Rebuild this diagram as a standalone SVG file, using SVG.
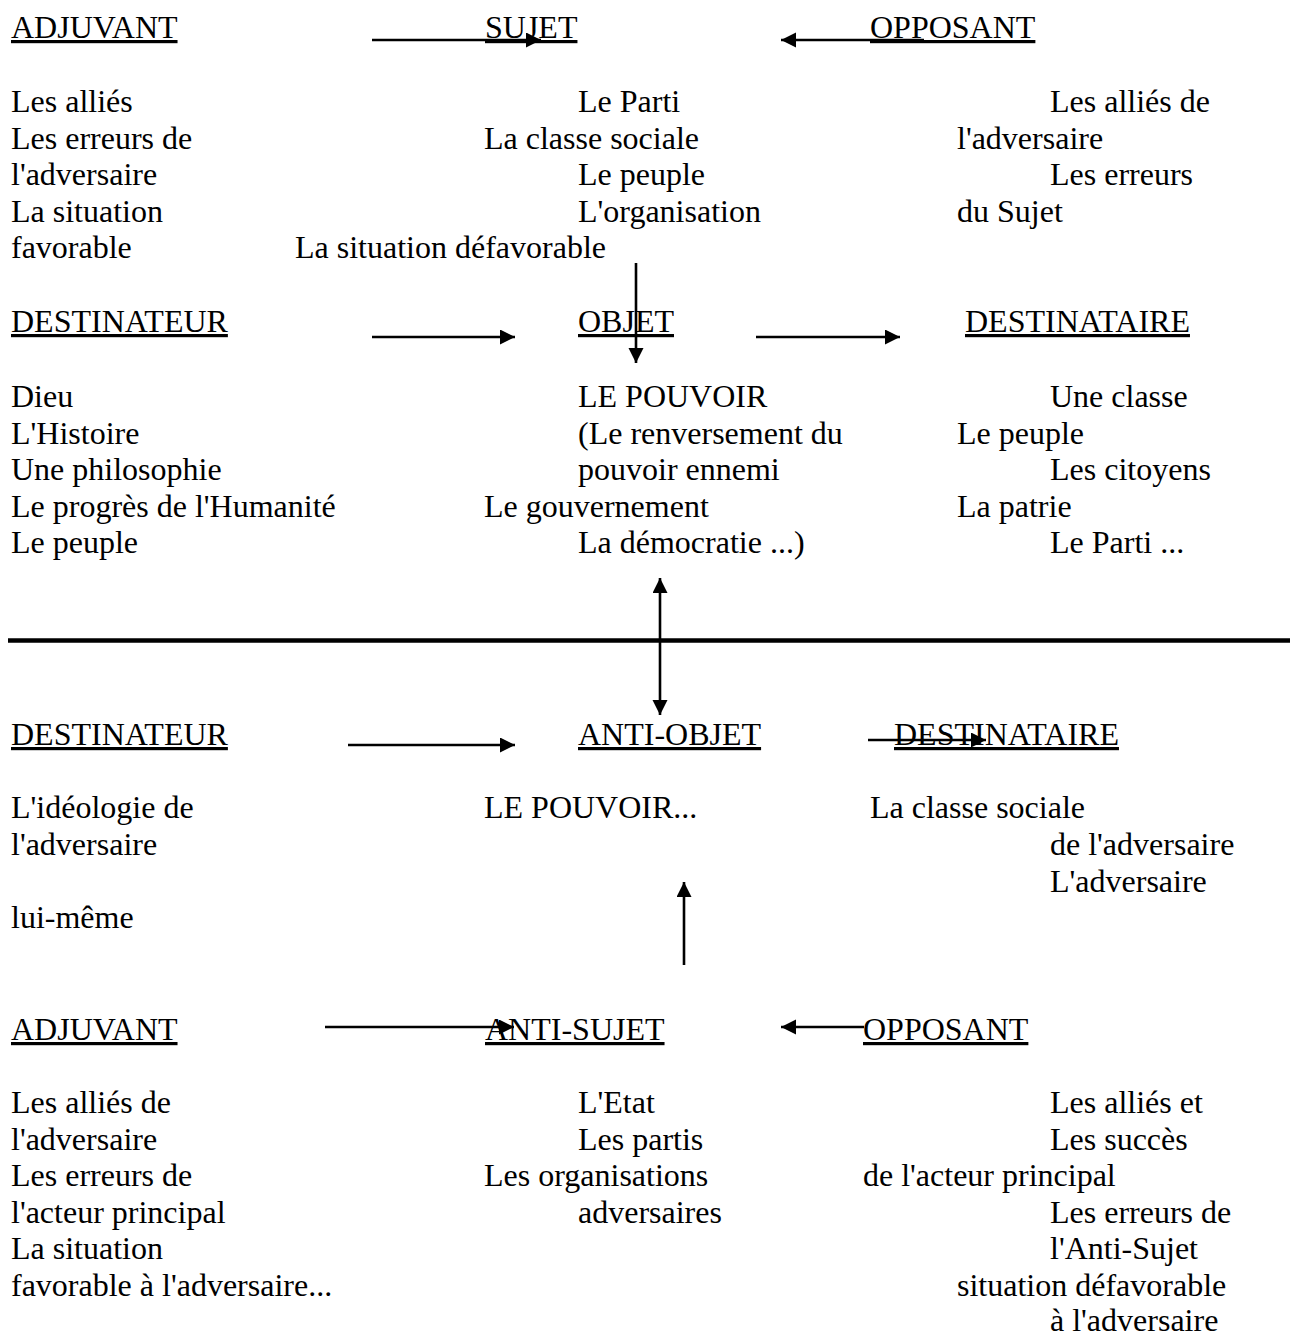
<svg xmlns="http://www.w3.org/2000/svg" width="1290" height="1334" viewBox="0 0 1290 1334">
<style>
text{font-family:"Liberation Serif","Times New Roman",serif;font-size:32px;fill:#000}
.h{text-decoration:underline}
.c{stroke:#000;stroke-width:2.6;fill:none}
</style>
<defs>
<marker id="ah" markerUnits="userSpaceOnUse" markerWidth="16" markerHeight="16" refX="15" refY="7.5" orient="auto-start-reverse">
<path d="M0,0 L15,7.5 L0,15 z" fill="#000"/>
</marker>
</defs>
<rect width="1290" height="1334" fill="#fff"/>

<g id="adjuvant1">
<text class="h" x="11" y="38">ADJUVANT</text>
<text x="11" y="112">Les alliés</text>
<text x="11" y="148.5">Les erreurs de</text>
<text x="11" y="185">l'adversaire</text>
<text x="11" y="222">La situation</text>
<text x="11" y="258">favorable</text>
<text x="295" y="258">La situation défavorable</text>
</g>
<g id="sujet">
<text class="h" x="485" y="38">SUJET</text>
<text x="578" y="112">Le Parti</text>
<text x="484" y="148.5">La classe sociale</text>
<text x="578" y="185">Le peuple</text>
<text x="578" y="222">L'organisation</text>
</g>
<g id="opposant1">
<text class="h" x="870" y="38">OPPOSANT</text>
<text x="1050" y="112">Les alliés de</text>
<text x="957" y="148.5">l'adversaire</text>
<text x="1050" y="185">Les erreurs</text>
<text x="957" y="222">du Sujet</text>
</g>

<g id="destinateur1">
<text class="h" x="11" y="332">DESTINATEUR</text>
<text x="11" y="407">Dieu</text>
<text x="11" y="443.5">L'Histoire</text>
<text x="11" y="480">Une philosophie</text>
<text x="11" y="517">Le progrès de l'Humanité</text>
<text x="11" y="553">Le peuple</text>
</g>
<g id="objet">
<text class="h" x="578" y="332">OBJET</text>
<text x="578" y="407">LE POUVOIR</text>
<text x="578" y="443.5">(Le renversement du</text>
<text x="578" y="480">pouvoir ennemi</text>
<text x="484" y="517">Le gouvernement</text>
<text x="578" y="553">La démocratie ...)</text>
</g>
<g id="destinataire1">
<text class="h" x="965" y="332">DESTINATAIRE</text>
<text x="1050" y="407">Une classe</text>
<text x="957" y="443.5">Le peuple</text>
<text x="1050" y="480">Les citoyens</text>
<text x="957" y="517">La patrie</text>
<text x="1050" y="553">Le Parti ...</text>
</g>

<g id="destinateur2">
<text class="h" x="11" y="745">DESTINATEUR</text>
<text x="11" y="818">L'idéologie de</text>
<text x="11" y="855">l'adversaire</text>
<text x="11" y="928">lui-même</text>
</g>
<g id="anti-objet">
<text class="h" x="578" y="745">ANTI-OBJET</text>
<text x="484" y="818">LE POUVOIR...</text>
</g>
<g id="destinataire2">
<text class="h" x="894" y="745">DESTINATAIRE</text>
<text x="870" y="818">La classe sociale</text>
<text x="1050" y="855">de l'adversaire</text>
<text x="1050" y="891.5">L'adversaire</text>
</g>

<g id="adjuvant2">
<text class="h" x="11" y="1040">ADJUVANT</text>
<text x="11" y="1113">Les alliés de</text>
<text x="11" y="1149.5">l'adversaire</text>
<text x="11" y="1186">Les erreurs de</text>
<text x="11" y="1222.5">l'acteur principal</text>
<text x="11" y="1259">La situation</text>
<text x="11" y="1296">favorable à l'adversaire...</text>
</g>
<g id="anti-sujet">
<text class="h" x="485" y="1040">ANTI-SUJET</text>
<text x="578" y="1113">L'Etat</text>
<text x="578" y="1149.5">Les partis</text>
<text x="484" y="1186">Les organisations</text>
<text x="578" y="1222.5">adversaires</text>
</g>
<g id="opposant2">
<text class="h" x="863" y="1040">OPPOSANT</text>
<text x="1050" y="1113">Les alliés et</text>
<text x="1050" y="1149.5">Les succès</text>
<text x="863" y="1186">de l'acteur principal</text>
<text x="1050" y="1222.5">Les erreurs de</text>
<text x="1050" y="1259">l'Anti-Sujet</text>
<text x="957" y="1296">situation défavorable</text>
<text x="1050" y="1331">à l'adversaire</text>
</g>

<g id="connectors">
<line class="c" x1="372" y1="40" x2="541" y2="40" marker-end="url(#ah)"/>
<line class="c" x1="924" y1="40" x2="781" y2="40" marker-end="url(#ah)"/>
<line class="c" x1="636" y1="263" x2="636" y2="363" marker-end="url(#ah)"/>
<line class="c" x1="372" y1="337" x2="515" y2="337" marker-end="url(#ah)"/>
<line class="c" x1="756" y1="337" x2="900" y2="337" marker-end="url(#ah)"/>
<line class="c" x1="660" y1="578" x2="660" y2="715" marker-start="url(#ah)" marker-end="url(#ah)"/>
<line x1="8" y1="640.5" x2="1290" y2="640.5" stroke="#000" stroke-width="4.5"/>
<line class="c" x1="348" y1="745" x2="515" y2="745" marker-end="url(#ah)"/>
<line class="c" x1="868" y1="740" x2="986" y2="740" marker-end="url(#ah)"/>
<line class="c" x1="684" y1="965" x2="684" y2="882" marker-end="url(#ah)"/>
<line class="c" x1="325" y1="1027" x2="514" y2="1027" marker-end="url(#ah)"/>
<line class="c" x1="864" y1="1027" x2="781" y2="1027" marker-end="url(#ah)"/>
</g>
</svg>
